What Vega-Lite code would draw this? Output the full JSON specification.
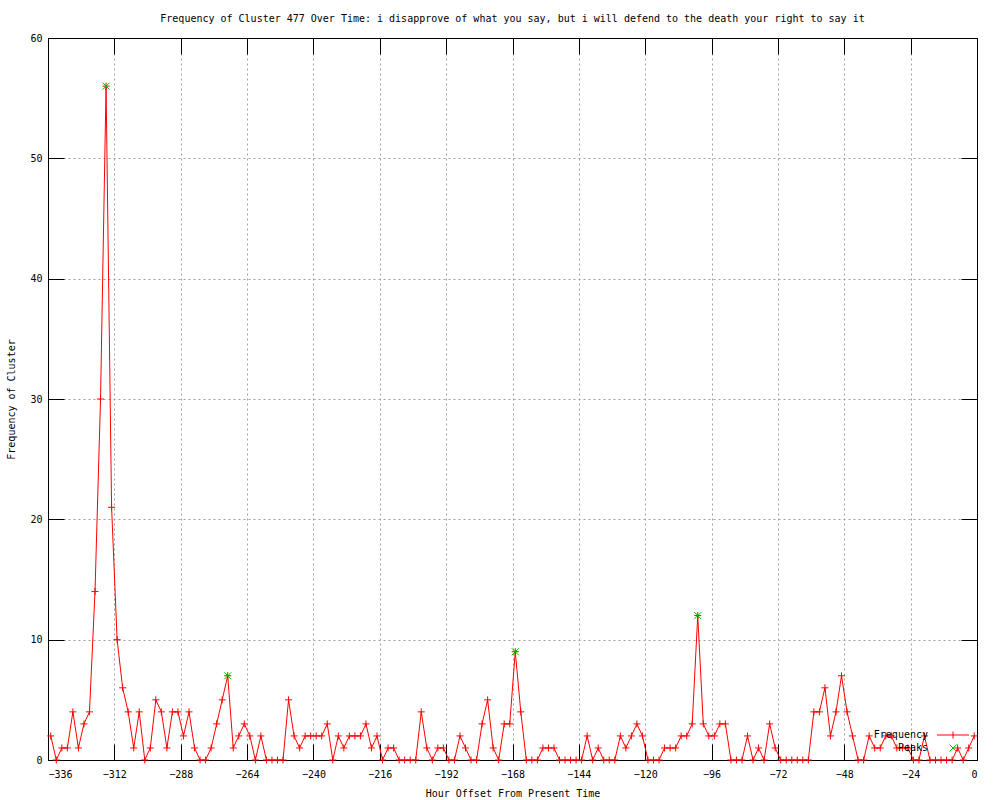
{
  "$schema": "https://vega.github.io/schema/vega-lite/v6.json",
  "width": 929,
  "height": 722,
  "autosize": "none",
  "padding": {"left": 48, "top": 38, "right": 23, "bottom": 40},
  "background": "white",
  "title": {"text": "Frequency of Cluster 477 Over Time: i disapprove of what you say, but i will defend to the death your right to say it", "font": "DejaVu Sans Mono", "fontSize": 10, "fontWeight": "normal", "color": "black", "anchor": "middle", "offset": 9},
  "config": {
    "view": {"stroke": "black", "strokeWidth": 1},
    "axis": {"domain": true, "domainColor": "black", "domainWidth": 1, "tickColor": "black", "tickSize": -16, "labelFont": "DejaVu Sans Mono", "labelFontSize": 10, "labelColor": "black", "titleFont": "DejaVu Sans Mono", "titleFontSize": 10, "titleFontWeight": "normal", "titleColor": "black", "gridColor": "#a0a0a0", "gridDash": [2, 3], "gridOpacity": 1, "labelPadding": 22}
  },
  "datasets": {
    "freq": [
      {"h":-335,"n":2},{"h":-333,"n":0},{"h":-331,"n":1},{"h":-329,"n":1},{"h":-327,"n":4},{"h":-325,"n":1},{"h":-323,"n":3},{"h":-321,"n":4},{"h":-319,"n":14},{"h":-317,"n":30},
      {"h":-315,"n":56},{"h":-313,"n":21},{"h":-311,"n":10},{"h":-309,"n":6},{"h":-307,"n":4},{"h":-305,"n":1},{"h":-303,"n":4},{"h":-301,"n":0},{"h":-299,"n":1},{"h":-297,"n":5},
      {"h":-295,"n":4},{"h":-293,"n":1},{"h":-291,"n":4},{"h":-289,"n":4},{"h":-287,"n":2},{"h":-285,"n":4},{"h":-283,"n":1},{"h":-281,"n":0},{"h":-279,"n":0},{"h":-277,"n":1},
      {"h":-275,"n":3},{"h":-273,"n":5},{"h":-271,"n":7},{"h":-269,"n":1},{"h":-267,"n":2},{"h":-265,"n":3},{"h":-263,"n":2},{"h":-261,"n":0},{"h":-259,"n":2},{"h":-257,"n":0},
      {"h":-255,"n":0},{"h":-253,"n":0},{"h":-251,"n":0},{"h":-249,"n":5},{"h":-247,"n":2},{"h":-245,"n":1},{"h":-243,"n":2},{"h":-241,"n":2},{"h":-239,"n":2},{"h":-237,"n":2},
      {"h":-235,"n":3},{"h":-233,"n":0},{"h":-231,"n":2},{"h":-229,"n":1},{"h":-227,"n":2},{"h":-225,"n":2},{"h":-223,"n":2},{"h":-221,"n":3},{"h":-219,"n":1},{"h":-217,"n":2},
      {"h":-215,"n":0},{"h":-213,"n":1},{"h":-211,"n":1},{"h":-209,"n":0},{"h":-207,"n":0},{"h":-205,"n":0},{"h":-203,"n":0},{"h":-201,"n":4},{"h":-199,"n":1},{"h":-197,"n":0},
      {"h":-195,"n":1},{"h":-193,"n":1},{"h":-191,"n":0},{"h":-189,"n":0},{"h":-187,"n":2},{"h":-185,"n":1},{"h":-183,"n":0},{"h":-181,"n":0},{"h":-179,"n":3},{"h":-177,"n":5},
      {"h":-175,"n":1},{"h":-173,"n":0},{"h":-171,"n":3},{"h":-169,"n":3},{"h":-167,"n":9},{"h":-165,"n":4},{"h":-163,"n":0},{"h":-161,"n":0},{"h":-159,"n":0},{"h":-157,"n":1},
      {"h":-155,"n":1},{"h":-153,"n":1},{"h":-151,"n":0},{"h":-149,"n":0},{"h":-147,"n":0},{"h":-145,"n":0},{"h":-143,"n":0},{"h":-141,"n":2},{"h":-139,"n":0},{"h":-137,"n":1},
      {"h":-135,"n":0},{"h":-133,"n":0},{"h":-131,"n":0},{"h":-129,"n":2},{"h":-127,"n":1},{"h":-125,"n":2},{"h":-123,"n":3},{"h":-121,"n":2},{"h":-119,"n":0},{"h":-117,"n":0},
      {"h":-115,"n":0},{"h":-113,"n":1},{"h":-111,"n":1},{"h":-109,"n":1},{"h":-107,"n":2},{"h":-105,"n":2},{"h":-103,"n":3},{"h":-101,"n":12},{"h":-99,"n":3},{"h":-97,"n":2},
      {"h":-95,"n":2},{"h":-93,"n":3},{"h":-91,"n":3},{"h":-89,"n":0},{"h":-87,"n":0},{"h":-85,"n":0},{"h":-83,"n":2},{"h":-81,"n":0},{"h":-79,"n":1},{"h":-77,"n":0},
      {"h":-75,"n":3},{"h":-73,"n":1},{"h":-71,"n":0},{"h":-69,"n":0},{"h":-67,"n":0},{"h":-65,"n":0},{"h":-63,"n":0},{"h":-61,"n":0},{"h":-59,"n":4},{"h":-57,"n":4},
      {"h":-55,"n":6},{"h":-53,"n":2},{"h":-51,"n":4},{"h":-49,"n":7},{"h":-47,"n":4},{"h":-45,"n":2},{"h":-43,"n":0},{"h":-41,"n":0},{"h":-39,"n":2},{"h":-37,"n":1},
      {"h":-35,"n":1},{"h":-33,"n":2},{"h":-31,"n":2},{"h":-29,"n":1},{"h":-27,"n":1},{"h":-25,"n":1},{"h":-23,"n":0},{"h":-21,"n":0},{"h":-19,"n":2},{"h":-17,"n":0},
      {"h":-15,"n":0},{"h":-13,"n":0},{"h":-11,"n":0},{"h":-9,"n":0},{"h":-7,"n":1},{"h":-5,"n":0},{"h":-3,"n":1},{"h":-1,"n":2}
    ],
    "peaks": [
      {"h":-315,"n":56,"series":"Peaks"},{"h":-271,"n":7,"series":"Peaks"},{"h":-167,"n":9,"series":"Peaks"},{"h":-101,"n":12,"series":"Peaks"}
    ]
  },
  "layer": [
    {
      "data": {"name": "freq"},
      "mark": {"type": "line", "color": "#ff0000", "strokeWidth": 1},
      "encoding": {
        "x": {"field": "h", "type": "quantitative", "scale": {"domain": [-336, 0], "nice": false, "zero": false},
              "axis": {"orient": "bottom", "values": [-336,-312,-288,-264,-240,-216,-192,-168,-144,-120,-96,-72,-48,-24,0], "grid": true, "title": "Hour Offset From Present Time", "titlePadding": 9, "labelPadding": 25}},
        "y": {"field": "n", "type": "quantitative", "scale": {"domain": [0, 60], "nice": false},
              "axis": {"orient": "left", "values": [0,10,20,30,40,50,60], "grid": true, "title": "Frequency of Cluster", "titlePadding": 13}}
      }
    },
    {
      "data": {"name": "freq"},
      "mark": {"type": "point", "shape": "M-1,0L1,0M0,-1L0,1", "filled": false, "stroke": "#ff0000", "strokeWidth": 1, "size": 49, "opacity": 1},
      "encoding": {
        "x": {"field": "h", "type": "quantitative", "axis": {"orient": "top", "values": [-336,-312,-288,-264,-240,-216,-192,-168,-144,-120,-96,-72,-48,-24,0], "labels": false, "grid": false, "title": null}},
        "y": {"field": "n", "type": "quantitative", "axis": {"orient": "right", "values": [0,10,20,30,40,50,60], "labels": false, "grid": false, "title": null}}
      }
    },
    {
      "data": {"name": "peaks"},
      "mark": {"type": "point", "filled": false, "strokeWidth": 1, "size": 49, "opacity": 1},
      "encoding": {
        "x": {"field": "h", "type": "quantitative", "axis": null},
        "y": {"field": "n", "type": "quantitative", "axis": null},
        "color": {"field": "series", "type": "nominal", "scale": {"domain": ["Frequency", "Peaks"], "range": ["#ff0000", "#00c000"]},
                  "legend": {"orient": "bottom-right", "title": null, "offset": 6, "padding": 0, "labelFont": "DejaVu Sans Mono", "labelFontSize": 10, "labelColor": "black", "labelAlign": "right", "labelOffset": -30, "symbolSize": 49, "symbolStrokeWidth": 1, "rowPadding": 1}},
        "shape": {"field": "series", "type": "nominal", "scale": {"domain": ["Frequency", "Peaks"], "range": ["M-4.57,0L4.57,0M0,-1L0,1", "M-1,-1L1,1M-1,1L1,-1"]}}
      }
    }
  ],
  "resolve": {"axis": {"x": "independent", "y": "independent"}}
}
